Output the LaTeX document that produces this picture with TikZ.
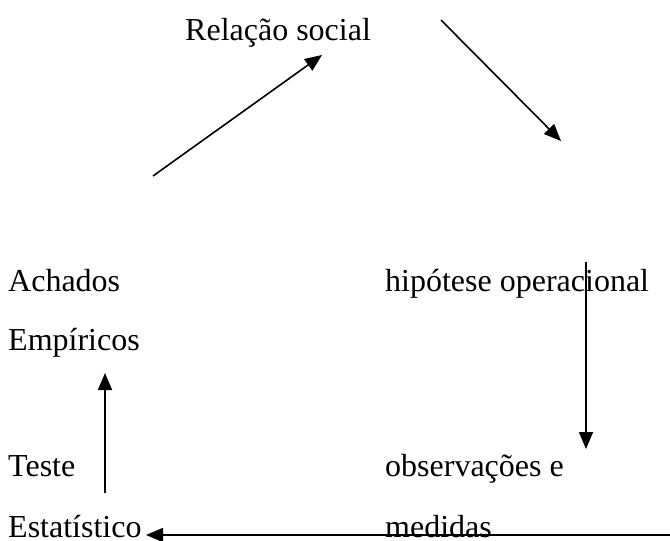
\documentclass[tikz,border=0pt]{standalone}
\usepackage{fontspec}
\setmainfont{Liberation Serif}
\usepackage{tikz}
\usetikzlibrary{positioning,arrows.meta}

\begin{document}
\begin{tikzpicture}[
  x = 1pt,
  y = -1pt,
  word/.style = {
    anchor = base west,
    inner sep = 0pt,
    font = \fontsize{32}{38}\selectfont,
  },
  link/.style = {
    draw,
    line width = 1.6pt,
    ->,
  },
  >={Triangle[length=17pt,width=14pt]},
]

  \useasboundingbox (0,0) rectangle (670,541);

  % texts
  \node[word] (rel) at (185,40) {Relação social};
  \node[word] (ach) at (8,291) {Achados};
  \node[word] (emp) at (8,350) {Empíricos};
  \node[word] (hip) at (385,291) {hipótese operacional};
  \node[word] (tes) at (8,476) {Teste};
  \node[word] (est) at (8,537) {Estatístico};
  \node[word] (obs) at (385,476) {observações e};
  \node[word] (med) at (385,537) {medidas};

  % free ends of the arrows
  \coordinate (a0) at (153,176);
  \coordinate (a1) at (322,55);
  \coordinate (b0) at (441,20);
  \coordinate (b1) at (561,141);
  \coordinate (c0) at (586,262);
  \coordinate (c1) at (586,449);
  \coordinate (d0) at (670,535);
  \coordinate (d1) at (146,535);
  \coordinate (e0) at (105,493);
  \coordinate (e1) at (105,373);

  \path[link] (a0) -- (a1);
  \path[link] (b0) -- (b1);
  \path[link] (c0) -- (c1);
  \path[link] (d0) -- (d1);
  \path[link] (e0) -- (e1);

\end{tikzpicture}
\end{document}
